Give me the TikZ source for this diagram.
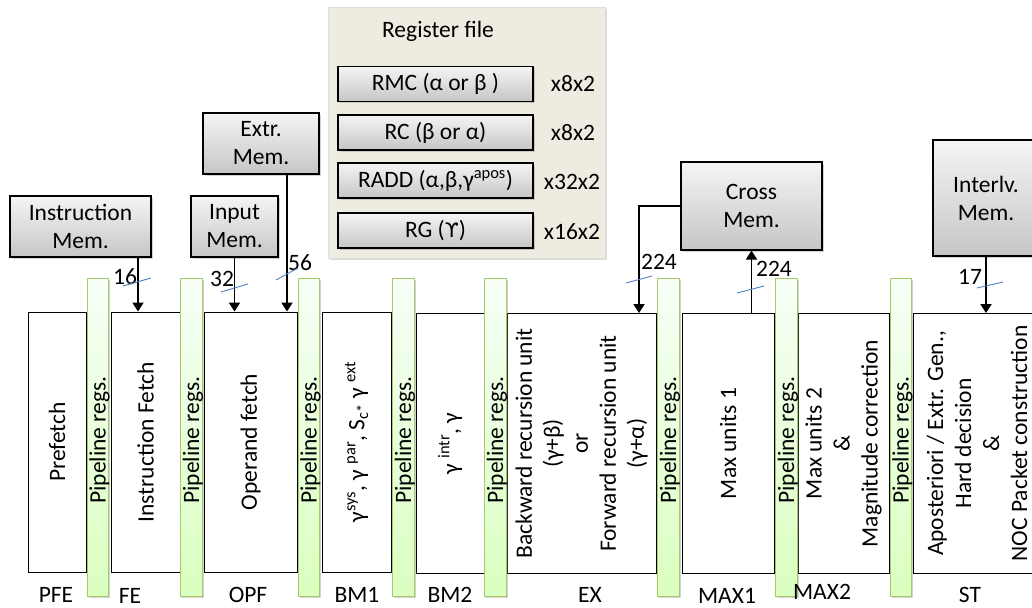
\documentclass[tikz,border=0pt]{standalone}
\usepackage{fontspec}
\setmainfont{Carlito}
\newfontfamily\djv{DejaVu Sans}
\usetikzlibrary{arrows.meta,shadows,calc}
\definecolor{pgreen}{HTML}{A5C96B}
\definecolor{rfbg}{HTML}{EEECE1}
\definecolor{slashblue}{HTML}{4F81BD}
\begin{document}
\begin{tikzpicture}[x=1pt,y=-1pt,
  font=\fontsize{23.5}{28}\selectfont,
  stage/.style={draw=black, fill=white, line width=0.9pt, inner sep=0pt, minimum height=260pt},
  pipe/.style={draw=pgreen, line width=1pt, top color=green!3!white, bottom color=lime!55!green!25!white,
     minimum width=21.5pt, minimum height=318pt, inner sep=0pt,
     drop shadow={shadow xshift=1.5pt, shadow yshift=-1.5pt, opacity=0.35}},
  mem/.style={draw=black, line width=1.1pt, top color=gray!8, bottom color=gray!45, inner sep=0pt,
     drop shadow={shadow xshift=2pt, shadow yshift=-2pt, opacity=0.35}, align=center},
  reg/.style={draw=black, line width=1.1pt, top color=gray!8, bottom color=gray!45, inner sep=0pt,
     minimum width=195pt, minimum height=35pt,
     drop shadow={shadow xshift=2pt, shadow yshift=-2pt, opacity=0.35}},
  vtxt/.style={rotate=90, align=center, inner sep=0pt},
  arr/.style={line width=1.8pt, -{Triangle[width=11pt,length=9pt]}},
  slash/.style={draw=slashblue, line width=0.9pt},
  num/.style={inner sep=0pt},
  lab/.style={anchor=base, inner sep=0pt}]
\useasboundingbox (0,0) rectangle (1032,607);

% register file
\node[draw=gray!25, fill=rfbg, minimum width=277pt, minimum height=251pt, inner sep=0pt,
  drop shadow={shadow xshift=2pt, shadow yshift=-2pt, opacity=0.3}] (rf) at (466.5,132.5) {};
\node (rftitle) at (438,31) {Register file};
\node[reg] (r1) at (435.5,84) {RMC (α or β )};
\node[reg] (r2) at (435.5,132.5) {RC (β or α)};
\node[reg] (r3) at (435.5,180.5) {RADD (α,β,γ\textsuperscript{apos})};
\node[reg] (r4) at (435.5,230.5) {RG ({\djv\fontsize{20}{22}\selectfont ϒ})};
\node (m1) at (573,84) {x8x2};
\node (m2) at (573,133) {x8x2};
\node (m3) at (572,182) {x32x2};
\node (m4) at (572,232) {x16x2};

% stages
\node[stage, minimum width=58pt] (pfe) at (57,442) {};
\node[stage, minimum width=69pt] (fe) at (145.5,442) {};
\node[stage, minimum width=93pt] (opf) at (250.5,442) {};
\node[stage, minimum width=69pt] (bm1) at (356.5,442) {};
\node[stage, minimum width=68pt] (bm2) at (450,443.5) {};
\node[stage, minimum width=149pt] (ex) at (581.5,443.5) {};
\node[stage, minimum width=92pt] (max1) at (728,443.5) {};
\node[stage, minimum width=91pt] (max2) at (843.5,443.5) {};
\node[stage, minimum width=128pt] (st) at (977,443.5) {};

\node[vtxt] (tpfe) at (pfe) {Prefetch};
\node[vtxt] (tfe) at (fe) {Instruction Fetch};
\node[vtxt] (topf) at (opf) {Operand fetch};
\node[vtxt] (tbm1) at (bm1) {γ\textsuperscript{sys}, γ \textsuperscript{par}, S\textsubscript{c*} γ \textsuperscript{ext}};
\node[vtxt] (tbm2) at (bm2) {γ \textsuperscript{intr}, γ};
\node[vtxt] (tex) at (ex) {Backward recursion unit\\(γ+β)\\or\\Forward recursion unit\\(γ+α)};
\node[vtxt] (tmax1) at (max1) {Max units 1};
\node[vtxt] (tmax2) at (max2) {Max units 2\\\&\\Magnitude correction};
\node[vtxt] (tst) at (st) {Aposteriori / Extr. Gen.,\\Hard decision\\\&\\NOC Packet construction};

% pipeline bars
\foreach \x [count=\i] in {98,191.5,309,403.5,495.5,668.5,786.5,901}{
  \node[pipe] (p\i) at (\x,437) {};
  \node[vtxt] (pt\i) at ($(p\i)+(1.5,3)$) {Pipeline regs.};
}

% stage labels
\node[lab] (lpfe) at (56,602) {PFE};
\node[lab] (lfe) at (130,603) {FE};
\node[lab] (lopf) at (248,602) {OPF};
\node[lab] (lbm1) at (357,602) {BM1};
\node[lab] (lbm2) at (450,602) {BM2};
\node[lab] (lex) at (590,602) {EX};
\node[lab] (lmax1) at (727,603) {MAX1};
\node[lab] (lmax2) at (822,599) {MAX2};
\node[lab] (lst) at (970,602) {ST};

% memories
\node[mem, minimum width=141pt, minimum height=61pt] (imem) at (80.5,226.5) {Instruction\\Mem.};
\node[mem, minimum width=87pt, minimum height=61pt] (inmem) at (234.5,226.5) {Input\\Mem.};
\node[mem, minimum width=116pt, minimum height=61pt] (xmem) at (261,143.5) {Extr.\\Mem.};
\node[mem, minimum width=141pt, minimum height=88pt] (cmem) at (751.5,206) {Cross\\Mem.};
\node[mem, minimum width=106pt, minimum height=116pt] (ilmem) at (986,198) {Interlv.\\Mem.};

% connectors
\coordinate (ax1) at (138,0);
\coordinate (ax3) at (287,0);
\coordinate (ax4) at (639,0);
\draw[arr] (imem.south -| ax1) -- (fe.north -| ax1);
\draw[arr] (inmem.south) -- (inmem.south |- opf.north);
\draw[arr] (xmem.south -| ax3) -- (opf.north -| ax3);
\draw[arr] (cmem.west) -| (ex.north -| ax4);
\draw[arr] (max1.north -| cmem.south) -- (cmem.south);
\draw[arr] (ilmem.south) -- (ilmem.south |- st.north);

% bus widths
\node[num] (n1) at (125,277) {16};
\draw[slash] (123,286) -- (151,278);
\node[num] (n2) at (222,279) {32};
\draw[slash] (221,292) -- (248,284);
\node[num] (n3) at (300,263) {56};
\draw[slash] (276,280) -- (298,268);
\node[num] (n4) at (659,262) {224};
\draw[slash] (626,283) -- (652,276);
\node[num] (n5) at (774,269) {224};
\draw[slash] (737,293) -- (764,286);
\node[num] (n6) at (970,277) {17};
\draw[slash] (977,288) -- (1003,282);
\end{tikzpicture}
\end{document}
